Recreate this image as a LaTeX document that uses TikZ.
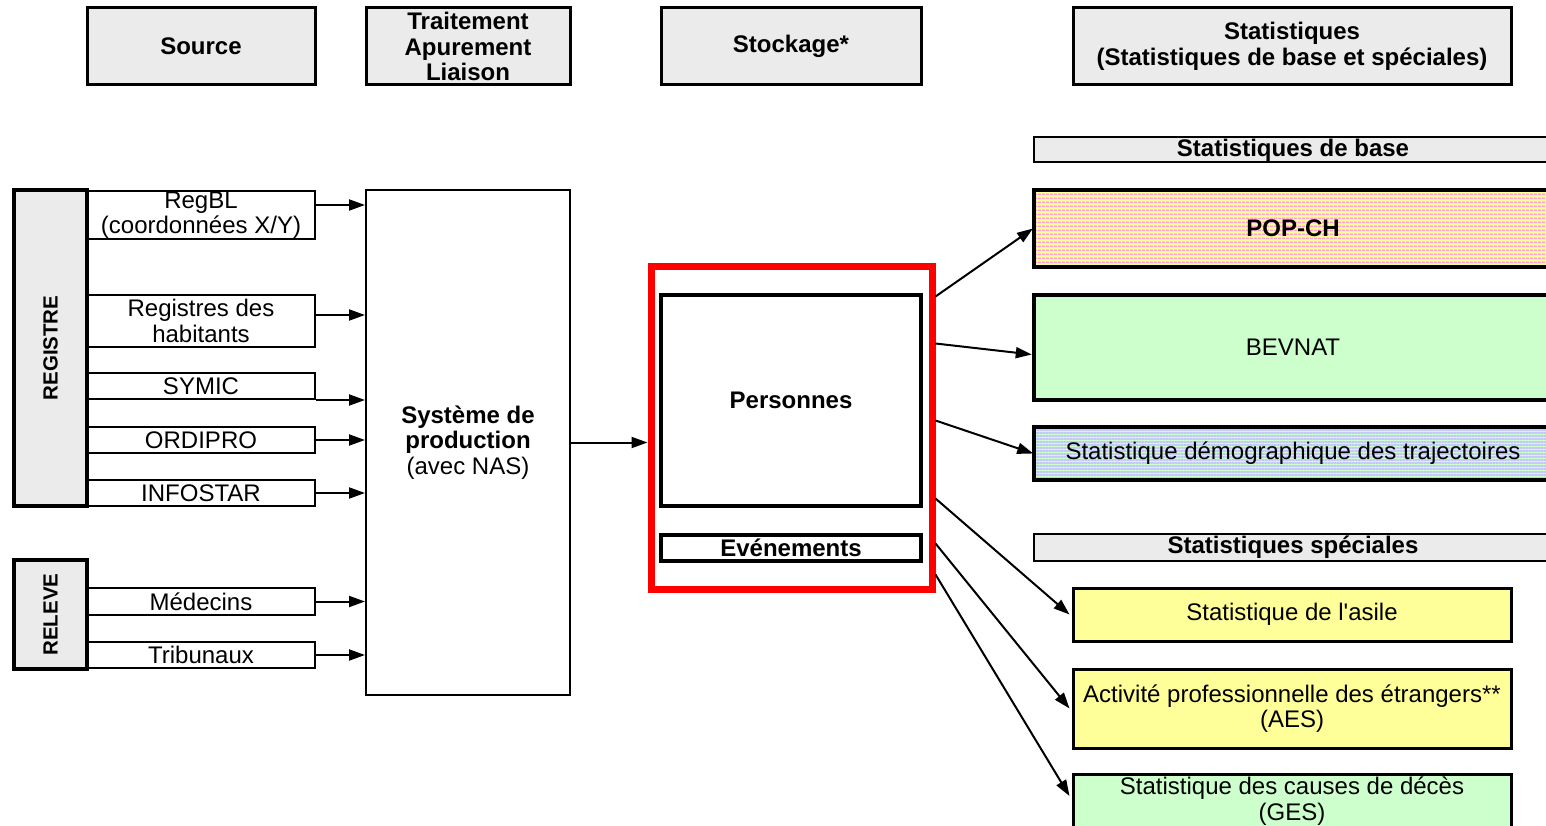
\documentclass[tikz,border=0pt]{standalone}
\usepackage{fontspec}
\setmainfont{Liberation Sans}
\usetikzlibrary{arrows.meta, patterns.meta, positioning}
\definecolor{lightgreen}{HTML}{CCFFCC}
\definecolor{lightyellow}{HTML}{FFFF99}
\definecolor{rosepop}{HTML}{FF9FCC}
\definecolor{lavdemo}{HTML}{C6C6FF}
\definecolor{greyfill}{HTML}{EBEBEB}
\tikzstyle{head} = [rectangle, minimum height=77pt, inner sep=0pt, text centered, align=center, draw=black, line width=3pt, fill=greyfill, font=\bfseries]
\tikzstyle{regbox} = [rectangle, minimum height=73pt, inner sep=0pt, draw=black, line width=4pt, fill=greyfill, font=\fontsize{20.5}{24}\selectfont\bfseries]
\tikzstyle{srcbox} = [rectangle, minimum width=228pt, inner sep=0pt, align=center, draw=black, line width=2pt, fill=white]
\tikzstyle{statbar} = [rectangle, minimum width=518pt, minimum height=25pt, inner sep=0pt, draw=black, line width=2pt, fill=greyfill, font=\bfseries]
\tikzstyle{statbig} = [rectangle, minimum width=518pt, inner sep=0pt, draw=black, line width=4.5pt]
\tikzstyle{statsmall} = [rectangle, minimum width=438pt, inner sep=0pt, align=center, draw=black, line width=3pt]
\tikzstyle{arrow} = [line width=2pt, -{Triangle[length=16pt, width=11pt]}]

\begin{document}
\fontsize{24}{25.5}\selectfont
\begin{tikzpicture}[x=1pt, y=-1pt]
\useasboundingbox (0,0) rectangle (1546,826);
\fill[white] (0,0) rectangle (1546,826);
% en-tetes des colonnes
\node (source)[head, minimum width=228pt] at (201,46.5) {Source};
\node (traitement)[head, minimum width=204pt] at (468,46.5) {Traitement\\Apurement\\Liaison};
\node (stockage)[head, minimum width=260pt] at (791,46.5) {Stockage*};
\node (statistiques)[head, minimum width=438pt] at (1292,46.5) {Statistiques\\(Statistiques de base et spéciales)};

% sources
\node (regbl)[srcbox, minimum height=48pt] at (201,215) {RegBL\\(coordonnées X/Y)};
\node (habitants)[srcbox, minimum height=52pt] at (201,321) {Registres des\\habitants};
\node (symic)[srcbox, minimum height=26pt] at (201,386) {SYMIC};
\node (ordipro)[srcbox, minimum height=26pt] at (201,440) {ORDIPRO};
\node (infostar)[srcbox, minimum height=26pt] at (201,493) {INFOSTAR};
\node (medecins)[srcbox, minimum height=27pt] at (201,601.5) {Médecins};
\node (tribunaux)[srcbox, minimum height=26pt] at (201,655) {Tribunaux};
\node (registre)[regbox, minimum width=316pt, rotate=90] at (50.5,348) {REGISTRE};
\node (releve)[regbox, minimum width=109pt, rotate=90] at (50.5,614.5) {RELEVE};

% traitement
\node (production)[rectangle, minimum width=204pt, minimum height=505pt, align=center, draw=black, line width=2pt] at (468,442.5) {\textbf{Système de}\\\textbf{production}\\(avec NAS)};

% stockage
\node (entrepot)[rectangle, minimum width=281pt, minimum height=323pt, draw=red, line width=7pt] at (791.5,427.5) {};
\node (personnes)[rectangle, minimum width=260pt, minimum height=211pt, draw=black, line width=4pt, font=\bfseries] at (791,400.5) {Personnes};
\node (evenements)[rectangle, minimum width=260pt, minimum height=26pt, inner sep=0pt, draw=black, line width=4pt, font=\bfseries] at (791,548) {Evénements};

% statistiques
\node (base)[statbar] at (1293,150) {Statistiques de base};
\node (popch)[statbig, minimum height=77pt, font=\bfseries, preaction={fill=lightyellow}, pattern={Lines[angle=0, distance=4pt, line width=2pt]}, pattern color=rosepop] at (1293,228.5) {POP-CH};
\node (bevnat)[statbig, minimum height=105pt, fill=lightgreen] at (1293,347.5) {BEVNAT};
\node (trajectoires)[statbig, minimum height=53pt, preaction={fill=lightgreen}, pattern={Lines[angle=0, distance=3pt, line width=1.5pt]}, pattern color=lavdemo] at (1293,453.5) {Statistique démographique des trajectoires};
\node (speciales)[statbar, minimum height=27pt] at (1293,547.5) {Statistiques spéciales};
\node (asile)[statsmall, minimum height=53pt, fill=lightyellow] at (1292,614.5) {Statistique de l\textquotesingle asile};
\node (aes)[statsmall, minimum height=79pt, fill=lightyellow] at (1292,708.5) {Activité professionnelle des étrangers**\\(AES)};
\node (ges)[statsmall, minimum height=54pt, fill=lightgreen] at (1292,801) {Statistique des causes de décès\\(GES)};

% fleches vers le systeme de production
\coordinate (regblout) at ([yshift=10pt]regbl.east);
\coordinate (habout) at ([yshift=6pt]habitants.east);
\draw [arrow] (regblout) -- (regblout -| production.west);
\draw [arrow] (habout) -- (habout -| production.west);
\draw [arrow] (symic.south east) -- (symic.south east -| production.west);
\draw [arrow] (ordipro.east) -- (ordipro.east -| production.west);
\draw [arrow] (infostar.east) -- (infostar.east -| production.west);
\draw [arrow] (medecins.east) -- (medecins.east -| production.west);
\draw [arrow] (tribunaux.east) -- (tribunaux.east -| production.west);
\draw [arrow] (production.east) -- (production.east -| entrepot.west);

% fleches vers les statistiques
\draw [arrow] ([yshift=-34pt]entrepot.north east) -- (popch.west);
\draw [arrow] ([yshift=-81pt]entrepot.north east) -- ([yshift=-7pt]bevnat.west);
\draw [arrow] ([yshift=-158pt]entrepot.north east) -- (trajectoires.west);
\draw [arrow] ([yshift=-236pt]entrepot.north east) -- ([xshift=-2pt]asile.west);
\draw [arrow] ([yshift=-281pt]entrepot.north east) -- ([xshift=-2pt]aes.west);
\draw [arrow] ([yshift=-312pt]entrepot.north east) -- ([xshift=-2pt, yshift=5pt]ges.west);
\end{tikzpicture}
\end{document}
